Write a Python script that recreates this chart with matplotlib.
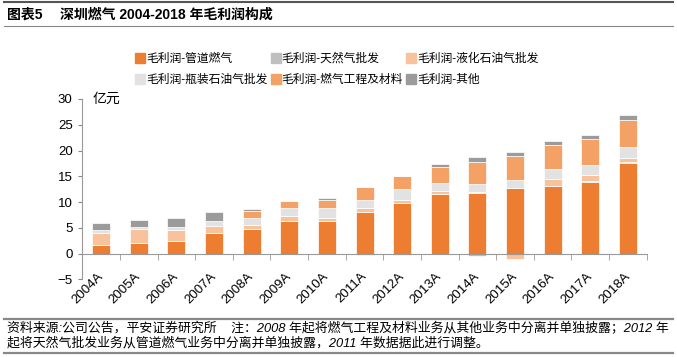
import numpy as np
import matplotlib.pyplot as plt
from matplotlib.lines import Line2D

plt.rcParams['font.family'] = ['Liberation Sans', 'Noto Sans CJK SC', 'DejaVu Sans']

years = ['2004A', '2005A', '2006A', '2007A', '2008A', '2009A', '2010A', '2011A',
         '2012A', '2013A', '2014A', '2015A', '2016A', '2017A', '2018A']

# 亿元
pipeline = [1.7, 2.0, 2.5, 3.95, 4.8, 6.4, 6.35, 8.15, 9.75, 11.6, 11.7, 12.7, 13.1, 13.9, 17.5]
ng_wholesale = [0, 0, 0, 0, 0, 0, 0, -0.3, -0.2, 0, -0.5, 0, 0.1, 0.1, 0.3]
lpg = [2.4, 2.7, 2.0, 1.45, 0.8, 0.85, 0.65, 0.65, 0.75, 0.6, 0.3, -1.0, 1.3, 1.2, 0.75]
bottled = [0.5, 0.5, 0.7, 0.9, 1.3, 1.55, 1.8, 1.7, 2.0, 1.6, 1.45, 1.6, 1.85, 1.95, 2.2]
engineering = [0, 0, 0, 0, 1.4, 1.4, 1.6, 2.5, 2.6, 3.1, 4.4, 4.7, 4.75, 5.1, 5.15]
other = [1.3, 1.3, 1.8, 1.7, 0.4, 0, 0.35, 0, 0, 0.4, 0.85, 0.65, 0.7, 0.85, 0.9]

series = [
    ('毛利润-管道燃气', pipeline, '#ED7D31'),
    ('毛利润-天然气批发', ng_wholesale, '#BFBFBF'),
    ('毛利润-液化石油气批发', lpg, '#F8C39C'),
    ('毛利润-瓶装石油气批发', bottled, '#E2E2E2'),
    ('毛利润-燃气工程及材料', engineering, '#F4A166'),
    ('毛利润-其他', other, '#9B9B9B'),
]

fig = plt.figure(figsize=(6.77, 3.57), dpi=100)
ax = fig.add_axes([0.1216, 0.2171, 0.8337, 0.5057])

x = np.arange(len(years))
pos_bottom = np.zeros(len(years))
neg_bottom = np.zeros(len(years))
handles = []
for label, vals, color in series:
    v = np.array(vals, dtype=float)
    bottom = np.where(v >= 0, pos_bottom, neg_bottom)
    ax.bar(x, v, 0.48, bottom=bottom, color=color, edgecolor='white',
           linewidth=0.5, zorder=3)
    pos_bottom += np.where(v > 0, v, 0)
    neg_bottom += np.where(v < 0, v, 0)
    handles.append(Line2D([], [], marker='s', linestyle='none', markersize=7,
                          markerfacecolor=color, markeredgecolor=color, label=label))

ax.set_xlim(-0.5, len(years) - 0.5)
ax.set_ylim(-5, 30)
ax.set_yticks(range(-5, 31, 5))
ax.tick_params(axis='y', labelsize=9.5, length=3, color='#888888', pad=4)

for s in ['top', 'right']:
    ax.spines[s].set_visible(False)
ax.spines['left'].set_color('#999999')
ax.spines['bottom'].set_color('#999999')
ax.spines['bottom'].set_position(('data', 0))
ax.spines['bottom'].set_zorder(4)

ax.set_xticks(x)
ax.set_xticklabels(years, rotation=45, ha='right', rotation_mode='anchor', va='center')
ax.set_xticks(np.arange(-0.5, len(years), 1), minor=True)
ax.tick_params(axis='x', which='major', length=0, labelsize=9.5, pad=15)
ax.tick_params(axis='x', which='minor', length=4, color='#999999', direction='out')

ax.text(0.018, 30, '亿元', transform=ax.get_yaxis_transform(), fontsize=10,
        va='center', ha='left')

# legend fills column by column, so reorder to read row by row
order = [0, 3, 1, 4, 2, 5]
fig.legend(handles=[handles[i] for i in order], ncol=3, loc='upper left',
           bbox_to_anchor=(0.193, 0.865), frameon=False, fontsize=8.5,
           handlelength=0.8, handletextpad=0.1, columnspacing=0.3,
           labelspacing=0.75, borderaxespad=0)

# title bar and footer
fig.add_artist(Line2D([0.006, 0.994], [0.995, 0.995], color='#555555', lw=1.5))
fig.add_artist(Line2D([0.006, 0.994], [0.927, 0.927], color='#888888', lw=0.8))
fig.text(0.01, 0.958, '图表5', fontsize=10, fontweight='bold', va='center')
fig.text(0.088, 0.958, '深圳燃气 2004-2018 年毛利润构成', fontsize=10,
         fontweight='bold', va='center')

fig.add_artist(Line2D([0.006, 0.994], [0.107, 0.107], color='#888888', lw=1.6))
fig.add_artist(Line2D([0.006, 0.994], [0.012, 0.012], color='#888888', lw=1.6))
fig.text(0.011, 0.08, '资料来源:公司公告，平安证券研究所    注：2008 年起将燃气工程及材料业务从其他业务中分离并单独披露；2012 年',
         fontsize=9.3, va='center', style='italic')
fig.text(0.011, 0.038, '起将天然气批发业务从管道燃气业务中分离并单独披露，2011 年数据据此进行调整。',
         fontsize=9.3, va='center', style='italic')

fig.savefig('out.png', dpi=100)
